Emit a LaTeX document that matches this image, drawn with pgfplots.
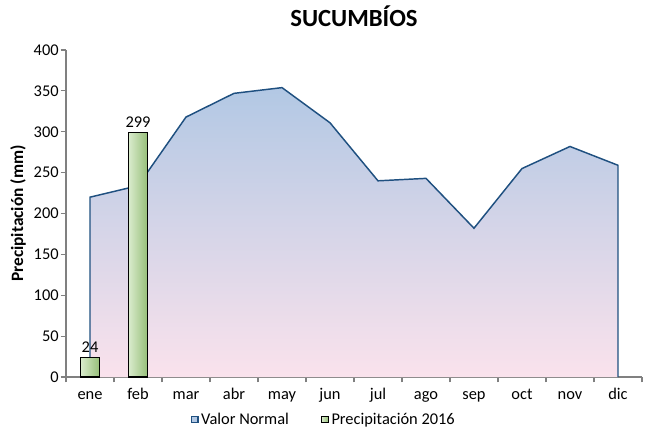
\documentclass[border=0pt]{standalone}
\usepackage{fontspec}
\setmainfont{Carlito}
\usepackage{pgfplots}
\pgfplotsset{compat=1.18}
\definecolor{NormLine}{RGB}{31,80,128}
\definecolor{NormTop}{RGB}{178,200,228}
\definecolor{NormBot}{RGB}{250,226,236}
\definecolor{BarLight}{RGB}{218,236,206}
\definecolor{BarDark}{RGB}{150,190,120}
\definecolor{AxisGray}{RGB}{128,128,128}
\begin{document}
\begin{tikzpicture}
\begin{axis}[
    scale only axis,
    width=432pt, height=245.25pt,
    xmin=-0.5, xmax=11.5, ymin=0, ymax=400,
    axis x line*=bottom, axis y line*=left,
    axis line style={AxisGray, line width=0.9pt, -},
    xtick={0,...,11},
    xticklabels={ene,feb,mar,abr,may,jun,jul,ago,sep,oct,nov,dic},
    major x tick style={draw=none},
    minor xtick={-0.5,0.5,...,11.5},
    minor x tick style={AxisGray, line width=0.9pt},
    minor tick length=4pt,
    ytick={0,50,...,400},
    y tick style={AxisGray, line width=0.9pt},
    major tick length=4pt,
    tick align=outside,
    ticklabel style={font=\fontsize{12.3}{14}\selectfont},
    yticklabel style={xshift=2pt},
    /pgf/number format/assume math mode=true,
    xticklabel style={yshift=-2pt, text height=1.6ex, text depth=0.5ex},
    ylabel={\textbf{Precipitación (mm)}},
    ylabel style={font=\fontsize{13}{15}\selectfont, yshift=-1pt},
    title={\textbf{SUCUMBÍOS}},
    title style={font=\fontsize{18.5}{20}\selectfont, yshift=8pt},
    legend style={at={(axis description cs:0.448,-0.13)}, anchor=center, draw=none,
        font=\fontsize{12.3}{14}\selectfont, legend columns=2,
        /tikz/every even column/.append style={column sep=22pt}},
    legend cell align=left,
    clip=false,
]
\path (axis description cs:-0.1146,-0.162) rectangle (axis description cs:1.0174,1.153);
% Valor normal (area)
\addplot[draw=none, top color=NormTop, bottom color=NormBot, forget plot]
  coordinates {(0,0) (0,220) (1,234) (2,318) (3,347) (4,354) (5,311) (6,240) (7,243) (8,182) (9,255) (10,282) (11,259) (11,0)} \closedcycle;
\addplot[NormLine, line width=1.1pt, mark=none,
  legend image code/.code={\draw[NormLine, fill=NormTop, line width=0.8pt] (0cm,-0.09cm) rectangle (0.18cm,0.09cm);}]
  coordinates {(0,0) (0,220) (1,234) (2,318) (3,347) (4,354) (5,311) (6,240) (7,243) (8,182) (9,255) (10,282) (11,259) (11,0)};
\addlegendentry{Valor Normal}
% Precipitacion 2016
\addplot[ybar, bar width=0.4, bar shift=0pt, draw=black, line width=0.9pt,
  left color=BarLight, right color=BarDark,
  nodes near coords, nodes near coords style={black, font=\fontsize{12.3}{14}\selectfont},
  legend image code/.code={\draw[black, fill=BarDark!70, line width=0.8pt] (0cm,-0.09cm) rectangle (0.18cm,0.09cm);}]
  coordinates {(0,24)};
\addlegendentry{Precipitación 2016}
\addplot[ybar, bar width=0.4, bar shift=0pt, draw=black, line width=0.9pt,
  left color=BarLight, right color=BarDark, forget plot,
  nodes near coords, nodes near coords style={black, font=\fontsize{12.3}{14}\selectfont}]
  coordinates {(1,299)};
\end{axis}
\end{tikzpicture}
\end{document}
